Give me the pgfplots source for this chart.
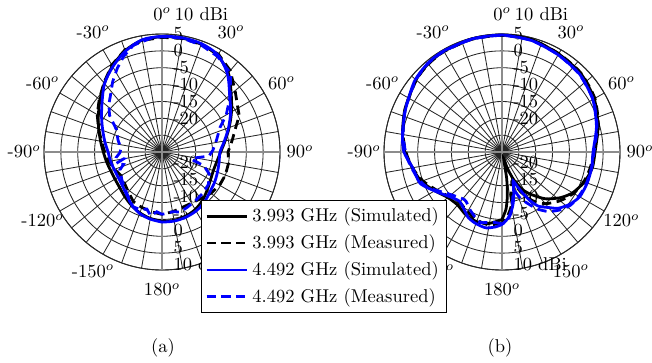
\documentclass[border=0pt]{standalone}
\usepackage{pgfplots}
\pgfplotsset{compat=1.18}
\usepgfplotslibrary{polar}
\usepackage{pgfplotstable}

% angle a: degrees clockwise from top; d: gain in dBi
\pgfplotstableread{
a d
-180 -4.5
-170 -5.0
-160 -5.8
-150 -6.8
-140 -7.8
-130 -8.6
-120 -8.9
-110 -8.8
-100 -8.3
-90 -7.6
-80 -6.5
-70 -5.0
-60 -3.2
-50 -1.0
-40 1.6
-30 4.4
-20 7.0
-10 8.7
0 9.2
10 9.3
20 9.0
30 8.0
40 5.6
50 1.8
60 -1.2
70 -3.8
80 -6.0
90 -7.6
100 -8.5
110 -8.8
120 -8.4
130 -7.5
140 -6.3
150 -5.3
160 -4.7
170 -4.4
180 -4.5
}\aKS
\pgfplotstableread{
a d
-180 -6.5
-170 -7.0
-160 -7.5
-150 -8.0
-140 -9.5
-130 -10.5
-120 -11.0
-110 -10.0
-100 -9.0
-90 -8.0
-80 -6.8
-70 -5.0
-60 -2.8
-50 -0.7
-40 1.8
-30 4.8
-20 7.2
-10 8.6
0 9.0
10 9.2
20 9.0
30 8.5
40 6.5
50 3.3
60 1.0
65 0.3
70 -1.5
80 -3.8
90 -5.4
100 -5.0
110 -5.0
120 -5.3
130 -6.0
140 -7.0
150 -7.5
160 -7.5
170 -7.0
180 -6.5
}\aKM
\pgfplotstableread{
a d
-180 -4.2
-170 -4.8
-160 -5.6
-150 -7.0
-140 -8.6
-130 -9.6
-120 -10.0
-110 -9.9
-100 -9.5
-90 -9.0
-80 -7.8
-70 -6.3
-60 -4.3
-50 -1.8
-40 1.5
-30 4.2
-20 6.8
-10 8.8
0 9.3
10 9.4
20 9.2
30 8.2
40 5.2
50 1.2
60 -1.5
70 -4.0
80 -6.2
90 -7.8
100 -7.8
110 -7.5
120 -7.0
130 -6.5
140 -5.5
150 -4.8
160 -4.4
170 -4.2
180 -4.2
}\aBS
\pgfplotstableread{
a d
-180 -6.5
-175 -7.2
-170 -5.8
-165 -7.5
-160 -6.8
-152 -6.6
-145 -8.0
-135 -9.5
-125 -10.5
-113 -11.4
-108 -13.0
-104 -11.0
-100 -13.5
-96 -11.5
-91 -12.5
-85 -12.8
-75 -11.5
-64 -10.0
-55 -6.0
-48 -3.8
-43 -2.5
-35 0.5
-28 3.2
-22 5.5
-15 7.8
-5 9.0
0 9.2
10 9.3
20 8.8
30 7.8
41 6.0
51 1.0
60 -3.0
67 -6.3
78 -8.5
88 -9.9
95 -11.0
100 -15.0
104 -16.0
108 -12.0
115 -9.5
125 -8.2
135 -7.8
145 -7.5
155 -7.0
163 -6.4
170 -7.0
180 -6.5
}\aBM
\pgfplotstableread{
a d
-180 -5.0
-170 -3.5
-160 -3.0
-150 -3.5
-140 -4.5
-130 -4.0
-120 -2.0
-110 0.5
-100 2.0
-90 3.8
-80 5.0
-66 6.5
-50 8.3
-40 9.1
-30 9.5
-15 9.7
0 9.7
15 9.5
30 8.6
45 8.0
60 6.6
75 4.5
90 2.6
100 2.2
110 1.0
120 -0.8
128 -3.0
137 -6.0
145 -9.5
151 -12.1
157 -16.0
162 -20.0
166 -23.0
170 -17.0
173 -12.0
176 -8.0
180 -5.0
}\bKS
\pgfplotstableread{
a d
-180 -4.0
-170 -3.0
-160 -3.5
-150 -4.5
-140 -5.5
-130 -4.5
-120 -2.5
-110 0.0
-100 2.0
-90 3.5
-80 4.8
-66 6.4
-50 8.2
-40 9.0
-30 9.4
-15 9.6
0 9.6
15 9.4
30 8.7
45 8.1
60 6.8
75 4.6
90 2.2
100 1.6
110 0.8
120 -0.5
130 -2.5
140 -5.0
148 -8.0
155 -12.0
160 -16.0
165 -14.0
170 -9.0
175 -6.0
180 -4.0
}\bKM
\pgfplotstableread{
a d
-180 -3.5
-175 -2.7
-168 -2.0
-160 -2.4
-153 -3.1
-147 -4.5
-139 -5.7
-130 -4.5
-121 -2.2
-111 1.0
-100 1.9
-90 4.1
-80 5.0
-66 6.3
-51 8.4
-40 9.3
-30 9.6
-15 9.7
0 9.7
15 9.2
30 8.3
45 7.6
60 6.1
75 4.0
90 2.0
100 2.0
110 1.9
120 1.6
128 0.3
135 -1.4
140 -3.5
146 -5.6
150 -8.3
153 -11.1
156 -13.8
159 -15.8
162 -14.0
165 -11.5
168 -9.2
171 -7.3
175 -5.2
180 -3.5
}\bBS
\pgfplotstableread{
a d
-180 -3.7
-172 -4.0
-165 -3.3
-161 -3.3
-151 -5.4
-142 -7.0
-127 -4.6
-115 -0.4
-105 1.5
-95 3.0
-90 3.6
-80 4.8
-66 6.4
-50 8.3
-40 9.2
-30 9.5
-15 9.6
0 9.6
15 9.2
30 8.3
45 7.5
60 6.2
75 4.2
90 2.3
100 2.0
111 1.7
120 1.3
128 0.7
135 -0.7
142 -2.6
148 -5.0
152 -7.2
158 -10.0
163 -13.0
168 -10.0
172 -6.5
176 -4.5
180 -3.7
}\bBM

\pgfplotsset{
  mypolar/.style={
    scale only axis, width=127.44pt, height=127.44pt,
    anchor=center,
    xmin=0, xmax=360, ymin=0, ymax=35,
    xtick={0,10,...,350}, xticklabels={},
    ytick={5,10,...,35}, yticklabels={},
    grid=major,
    major grid style={draw=black!85, line width=0.45pt},
    axis line style={draw=black!85, line width=0.5pt},
    major tick length=0pt,
    clip=false,
  },
  sim/.style={solid, line width=1.5pt},
  meas/.style={line width=1.5pt, dash pattern=on 5pt off 3pt},
}
\newcommand\polardecor{%
  \draw[black!45, line width=0.8pt] (axis cs:0,35) -- (axis cs:180,35);
  \draw[black!45, line width=0.8pt] (axis cs:90,35) -- (axis cs:270,35);
  \node at (axis cs:90,40.9) {0$^o$};
  \node at (axis cs:60,40.9) {30$^o$};
  \node at (axis cs:30,40.9) {60$^o$};
  \node at (axis cs:0,40.9) {90$^o$};
  \node at (axis cs:-30,40.9) {120$^o$};
  \node at (axis cs:-60,40.9) {150$^o$};
  \node at (axis cs:-90,40.9) {180$^o$};
  \node at (axis cs:120,40.9) {-30$^o$};
  \node at (axis cs:150,40.9) {-60$^o$};
  \node at (axis cs:180,40.9) {-90$^o$};
  \node at (axis cs:210,40.9) {-120$^o$};
  \node at (axis cs:240,40.9) {-150$^o$};
  \node[anchor=west, xshift=3.4pt] at (axis cs:90,40.9) {10 dBi};
  \node[anchor=west, xshift=2.7pt] at (axis cs:90,35.0) {5};
  \node[anchor=west, xshift=2.7pt] at (axis cs:90,30.0) {0};
  \node[anchor=west, xshift=2.7pt] at (axis cs:90,25.0) {-5};
  \node[anchor=west, xshift=2.7pt] at (axis cs:90,20.0) {-10};
  \node[anchor=west, xshift=2.7pt] at (axis cs:90,15.0) {-15};
  \node[anchor=west, xshift=2.7pt] at (axis cs:90,10.0) {-20};
  \node[anchor=west, xshift=2.7pt] at (axis cs:270,33.2) {10 dBi};
  \node[anchor=west, xshift=2.7pt] at (axis cs:270,28.2) {5};
  \node[anchor=west, xshift=2.7pt] at (axis cs:270,23.2) {0};
  \node[anchor=west, xshift=2.7pt] at (axis cs:270,18.2) {-5};
  \node[anchor=west, xshift=2.7pt] at (axis cs:270,13.2) {-10};
  \node[anchor=west, xshift=2.7pt] at (axis cs:270,8.2) {-15};
  \node[anchor=west, xshift=2.7pt] at (axis cs:270,3.2) {-20};
}

\begin{document}
\begin{tikzpicture}
\useasboundingbox (0,0) rectangle (352.08pt,-195.48pt);

\begin{polaraxis}[mypolar, at={(87.48pt,-82.08pt)}]
\polardecor
\addplot[black, sim, smooth, tension=0.5] table[x expr={90-\thisrow{a}}, y expr={\thisrow{d}+25}] {\aKS};
\addplot[black, meas] table[x expr={90-\thisrow{a}}, y expr={\thisrow{d}+25}] {\aKM};
\addplot[blue, sim, smooth, tension=0.5] table[x expr={90-\thisrow{a}}, y expr={\thisrow{d}+25}] {\aBS};
\addplot[blue, meas] table[x expr={90-\thisrow{a}}, y expr={\thisrow{d}+25}] {\aBM};
\end{polaraxis}

\begin{polaraxis}[mypolar, at={(271.08pt,-82.08pt)},
  legend style={at={(axis description cs:-0.7754,0.2966)}, anchor=north west,
    draw=black, line width=0.5pt, fill=white, font=\normalsize,
    row sep=1.5pt, inner xsep=2pt, inner ysep=2pt},
  legend cell align=left,
  legend image code/.code={\draw[#1] (0pt,0pt) -- (22pt,0pt);},
]
\polardecor
\addplot[black, sim, smooth, tension=0.4] table[x expr={90-\thisrow{a}}, y expr={\thisrow{d}+25}] {\bKS};
\addlegendentry{3.993 GHz (Simulated)}
\addplot[black, meas, smooth, tension=0.4] table[x expr={90-\thisrow{a}}, y expr={\thisrow{d}+25}] {\bKM};
\addlegendentry{3.993 GHz (Measured)}
\addplot[blue, sim, smooth, tension=0.4] table[x expr={90-\thisrow{a}}, y expr={\thisrow{d}+25}] {\bBS};
\addlegendentry{4.492 GHz (Simulated)}
\addplot[blue, meas, smooth, tension=0.4] table[x expr={90-\thisrow{a}}, y expr={\thisrow{d}+25}] {\bBM};
\addlegendentry{4.492 GHz (Measured)}
\end{polaraxis}

\node at (88pt,-187.9pt) {(a)};
\node at (270pt,-187.9pt) {(b)};
\end{tikzpicture}
\end{document}
